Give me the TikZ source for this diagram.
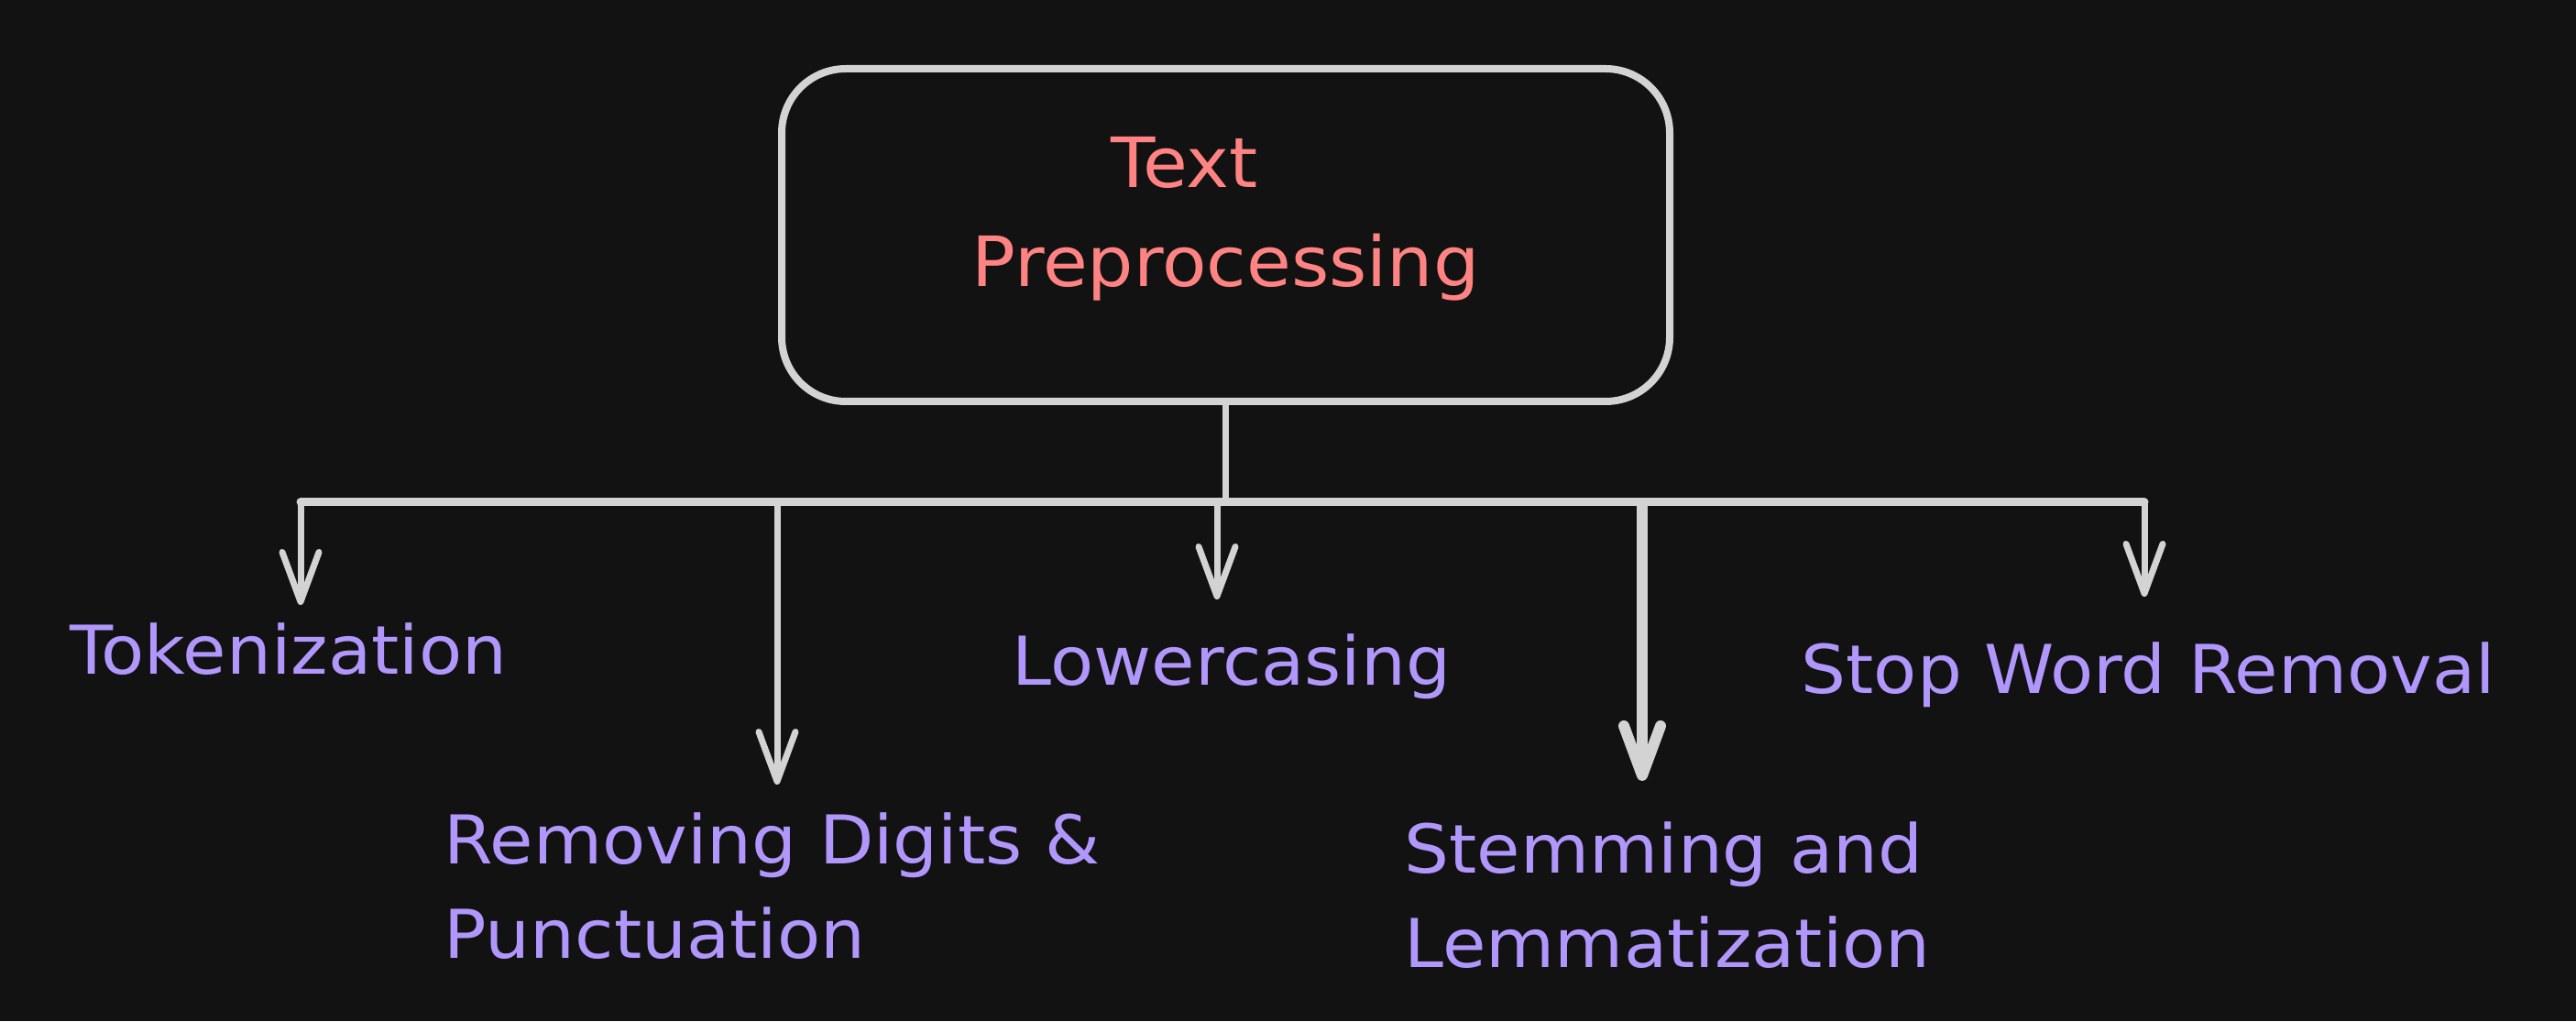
\documentclass[tikz,border=0pt]{standalone}
\usepackage{fontspec}
\setmainfont[FakeStretch=1.05]{DejaVu Sans}
\usetikzlibrary{arrows.meta,positioning}

\definecolor{bgdark}{HTML}{121212}
\definecolor{linegray}{HTML}{D3D3D3}
\definecolor{titlered}{HTML}{FF8383}
\definecolor{stepviolet}{HTML}{B197FC}

\begin{document}
\begin{tikzpicture}[
	titlebox/.style={draw=linegray, line width=0.08cm, rounded corners=0.7cm,
		minimum width=9.69cm, minimum height=3.63cm},
	titletext/.style={text=titlered, inner sep=0pt, align=center,
		font=\fontsize{21.5pt}{30.7pt}\selectfont},
	steplabel/.style={text=stepviolet, inner sep=0pt, align=left, anchor=north west,
		font=\fontsize{20.9pt}{29.3pt}\selectfont},
	bar/.style={draw=linegray, line width=0.09cm, line cap=round},
	arr/.style={draw=linegray, line width=0.07cm, line cap=round,
		-{Straight Barb[length=5.4mm, width=4mm, round]}}]
	% Background and margins
	\fill[bgdark] (0,0) rectangle (28.11,11.14);
	\useasboundingbox (0,0) rectangle (28.11,11.14);

	% Specification of nodes (position, etc.)
	\node (box)		[titlebox]	at (13.375,8.575)	{};
	\node (title)	[titletext]	at ([yshift=0.18cm]box.center)
												{Text\hspace*{0.9cm}\\Preprocessing};
	\node (tok)		[steplabel]	at (0.76,4.35)		{Tokenization};
	\node (rem)		[steplabel]	at (4.84,2.28)		{Removing Digits \&\\Punctuation};
	\node (low)		[steplabel]	at (11.04,4.23)		{Lowercasing};
	\node (stem)	[steplabel]	at (15.32,2.18)		{Stemming and\\Lemmatization};
	\node (stop)	[steplabel]	at (19.65,4.14)		{Stop Word Removal};

	% Branch points on the bar
	\coordinate (b1) at (3.28,5.66);
	\coordinate (b2) at (8.48,5.66);
	\coordinate (b3) at (13.28,5.66);
	\coordinate (b4) at (17.92,5.66);
	\coordinate (b5) at (23.40,5.66);

	% Specification of lines between nodes specified above
	\draw[draw=linegray, line width=0.07cm]	(box.south) -- (box.south |- b1);
	\draw[bar]							(b1) -- (b5);
	\draw[arr, shorten >=0.19cm]		(b1) -- (b1 |- tok.north);
	\draw[arr, shorten >=0.30cm]		(b2) -- (b2 |- rem.north);
	\draw[arr, shorten >=0.37cm]		(b3) -- (b3 |- low.north);
	\draw[arr, line width=0.12cm, line cap=butt, shorten >=0.44cm]
										(b4) -- (b4 |- stem.north);
	\draw[arr, shorten >=0.49cm]		(b5) -- (b5 |- stop.north);
\end{tikzpicture}
\end{document}
